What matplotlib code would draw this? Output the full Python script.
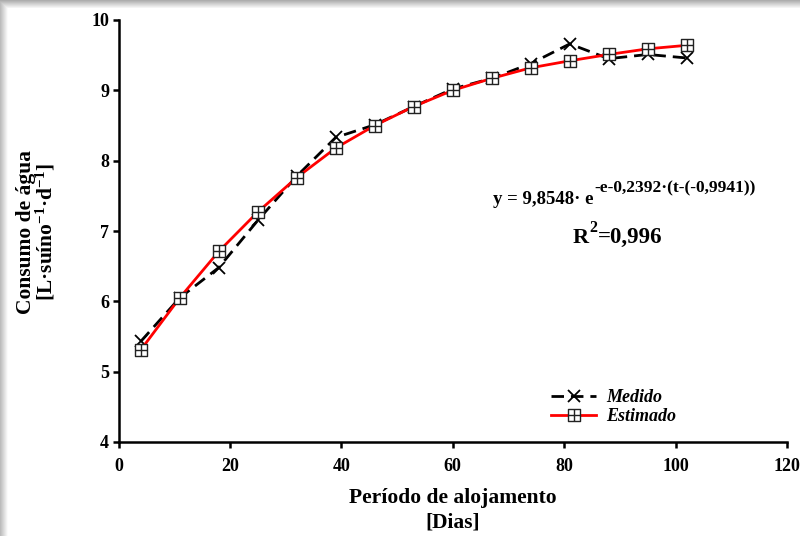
import numpy as np
import matplotlib
matplotlib.use("Agg")
import matplotlib.pyplot as plt
from matplotlib.path import Path

# ---- data ----
dias = [4, 11, 18, 25, 32, 39, 46, 53, 60, 67, 74, 81, 88, 95, 102]
medido = [5.43, 6.05, 6.48, 7.15, 7.78, 8.33, 8.51, 8.77, 9.02, 9.17, 9.38, 9.66, 9.45, 9.51, 9.46]
estimado = [5.31, 6.05, 6.71, 7.27, 7.76, 8.18, 8.50, 8.77, 9.00, 9.17, 9.32, 9.42, 9.51, 9.59, 9.64]
xticks = [0, 20, 40, 60, 80, 100, 120]
yticks = [4, 5, 6, 7, 8, 9, 10]
labels = ["Medido", "Estimado"]

plt.rcParams['font.family'] = ['Liberation Serif', 'DejaVu Serif']
plt.rcParams['font.weight'] = 'bold'
plt.rcParams['mathtext.fontset'] = 'custom'
plt.rcParams['mathtext.rm'] = 'Liberation Serif:bold'
plt.rcParams['mathtext.it'] = 'Liberation Serif:italic:bold'
plt.rcParams['mathtext.bf'] = 'Liberation Serif:bold'

W, H = 800, 536
fig = plt.figure(figsize=(W / 100, H / 100), dpi=100)

# background with soft shadow on top/left edges
bg = np.ones((H, W, 3))
for i in range(8):
    v = 0.68 + 0.04 * i
    bg[i, :, :] = np.minimum(bg[i, :, :], v)
for j in range(8):
    v = 0.74 + 0.035 * j
    bg[:, j, :] = np.minimum(bg[:, j, :], v)
fig.figimage(bg, xo=0, yo=0, zorder=-10)

ax = fig.add_axes([118.5 / W, 1 - 442 / H, (787 - 118.5) / W, (442 - 20) / H])
ax.set_facecolor('none')

# custom boxed-plus marker
verts = [(-1, -1), (1, -1), (1, 1), (-1, 1), (-1, -1),
         (0, -1), (0, 1), (-1, 0), (1, 0)]
codes = [Path.MOVETO, Path.LINETO, Path.LINETO, Path.LINETO, Path.CLOSEPOLY,
         Path.MOVETO, Path.LINETO, Path.MOVETO, Path.LINETO]
boxplus = Path(verts, codes)

ax.plot(dias, medido, color='black', lw=2.0, dashes=(4.5, 2.5),
        marker='x', markersize=9, markeredgewidth=1.3, markeredgecolor='black',
        label=labels[0], zorder=3)
ax.plot(dias, estimado, color='#ff0000', lw=2.0,
        marker=boxplus, markersize=9, markerfacecolor='white',
        markeredgecolor='#222222', markeredgewidth=1.0,
        label=labels[1], zorder=4)

ax.set_xlim(0, 120)
ax.set_ylim(4, 10)
ax.set_xticks(xticks)
ax.set_yticks(yticks)
for s in ['top', 'right']:
    ax.spines[s].set_visible(False)
for s in ['left', 'bottom']:
    ax.spines[s].set_linewidth(1.8)
ax.tick_params(axis='both', direction='out', length=4.3, width=1.8,
               labelsize=13)
ax.tick_params(axis='x', pad=7)
ax.tick_params(axis='y', pad=2.5)
for lab in ax.get_xticklabels() + ax.get_yticklabels():
    lab.set_fontweight('bold')

fig.text(453 / W, 1 - 498 / H, "Período de alojamento", ha='center', va='center',
         fontsize=15.5, fontweight='bold')
fig.text(453 / W, 1 - 522 / H, "[Dias]", ha='center', va='center',
         fontsize=15.5, fontweight='bold')
fig.text(26 / W, 1 - 232 / H, "Consumo de água", ha='center', va='center',
         rotation=90, fontsize=15.5, fontweight='bold')
fig.text(46 / W, 1 - 232 / H, r"[L·suíno$^{-1}$·d$^{-1}$]", ha='center', va='center',
         rotation=90, fontsize=15.5, fontweight='bold')

leg = ax.legend(loc='upper left', bbox_to_anchor=(551 / W, 1 - 389 / H),
                bbox_transform=fig.transFigure, frameon=False,
                prop={'family': 'Liberation Serif', 'style': 'italic',
                      'weight': 'bold', 'size': 13},
                handlelength=2.5, handletextpad=0.55, labelspacing=0.12,
                borderpad=0, borderaxespad=0)

# equation annotation (pieces placed by measuring rendered widths)
fig.canvas.draw()
r = fig.canvas.get_renderer()

t1 = fig.text(493 / W, 1 - 204 / H, "y = 9,8548· e", fontsize=13.5,
              fontweight='bold', ha='left', va='baseline')
b1 = t1.get_window_extent(renderer=r)
fig.text((b1.x1 + 1) / W, 1 - 192 / H, "-e-0,2392·(t-(-0,9941))", fontsize=12.5,
         fontweight='bold', ha='left', va='baseline')

t2 = fig.text(573 / W, 1 - 243 / H, "R", fontsize=16, fontweight='bold',
              ha='left', va='baseline')
b2 = t2.get_window_extent(renderer=r)
t3 = fig.text((b2.x1 + 0.5) / W, 1 - 232 / H, "2", fontsize=11.5, fontweight='bold',
              ha='left', va='baseline')
b3 = t3.get_window_extent(renderer=r)
fig.text((b3.x1 + 0.5) / W, 1 - 243 / H, "=0,996", fontsize=16.5, fontweight='bold',
         ha='left', va='baseline')

fig.savefig("out.png", dpi=100)
